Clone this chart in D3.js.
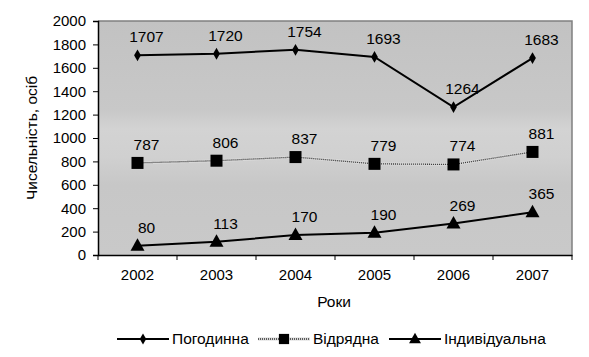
<!DOCTYPE html>
<html><head><meta charset="utf-8">
<script src="https://cdn.jsdelivr.net/npm/d3@7"></script>
<style>body{margin:0;background:#fff}svg{display:block;font-family:"Liberation Sans",Arial,sans-serif}</style>
</head><body><svg id="c" width="589" height="357"></svg>
<script>
const years = ["2002","2003","2004","2005","2006","2007"];
const seriesNames = ["Погодинна","Відрядна","Індивідуальна"];
const hourly = [1707,1720,1754,1693,1264,1683];
const piecework = [787,806,837,779,774,881];
const individual = [80,113,170,190,269,365];
const yTicks = [0,200,400,600,800,1000,1200,1400,1600,1800,2000];

const FONT = "Liberation Sans, Arial, sans-serif";
const svg = d3.select("#c");
const L=98,R=572,T=21,B=255;
const x = d3.scaleBand().domain(years).range([L,R]);
const y = d3.scaleLinear().domain([0,2000]).range([B,T]);
const defs = svg.append("defs");
const g = defs.append("linearGradient").attr("id","bg").attr("x1",0).attr("y1",0).attr("x2",0).attr("y2",1);
[[0,"#c2c2c2"],[0.38,"#c8c8c8"],[0.46,"#d3d3d3"],[0.58,"#d0d0d0"],[0.7,"#c7c7c7"],[1,"#c9c9c9"]].forEach(s=>g.append("stop").attr("offset",s[0]).attr("stop-color",s[1]));
svg.append("rect").attr("x",L).attr("y",T).attr("width",R-L).attr("height",B-T).attr("fill","url(#bg)");
svg.append("path").attr("d",`M${L},${T}H${R}V${B}`).attr("fill","none").attr("stroke","#808080").attr("stroke-width",1.5);

const ya = svg.append("g").attr("transform",`translate(${L},0)`).call(d3.axisLeft(y).tickValues(yTicks).tickSize(5).tickFormat(d3.format("d")));
const xa = svg.append("g").attr("transform",`translate(0,${B})`).call(d3.axisBottom(x).tickSize(0));
[ya,xa].forEach(a=>{a.attr("font-family",FONT).attr("font-size",15);a.select(".domain").attr("stroke","#000").attr("stroke-width",1.5);a.selectAll("text").attr("fill","#000");a.selectAll("line").attr("stroke","#000");});
ya.selectAll("text").attr("dx",-4);
xa.selectAll("text").attr("dy",22);
xa.selectAll(".bt").data(years.concat(["end"])).enter().append("line").attr("class","bt")
  .attr("x1",(d,i)=>L+i*x.bandwidth()).attr("x2",(d,i)=>L+i*x.bandwidth()).attr("y1",0).attr("y2",5).attr("stroke","#000");

svg.append("text").attr("transform",`translate(37,138) rotate(-90)`).attr("text-anchor","middle").attr("font-size",15.5).text("Чисельність, осіб");
svg.append("text").attr("x",334).attr("y",307).attr("text-anchor","middle").attr("font-size",15.5).text("Роки");

const cx = d=>x(d)+x.bandwidth()/2;
const line = d3.line().x((d,i)=>cx(years[i])).y(d=>y(d));
const series = [
  {name:seriesNames[0],vals:hourly,marker:"diamond"},
  {name:seriesNames[1],vals:piecework,marker:"square"},
  {name:seriesNames[2],vals:individual,marker:"triangle"}];

function drawLine(sel,d,path){
  if(d.marker==="square"){
    sel.append("path").attr("d",path).attr("fill","none").attr("stroke","#d8d8d8").attr("stroke-width",3);
    sel.append("path").attr("d",path).attr("fill","none").attr("stroke","#333").attr("stroke-width",1.3).attr("stroke-dasharray","1,1");
  } else {
    sel.append("path").attr("d",path).attr("fill","none").attr("stroke","#000").attr("stroke-width",2);
  }
}
function drawMarker(sel,type,px,py,scale){
  if(type==="diamond") sel.append("path").attr("d",d3.symbol(d3.symbolDiamond,40*scale)()).attr("transform",`translate(${px},${py})`).attr("fill","#000");
  if(type==="square") sel.append("rect").attr("x",px-6*scale).attr("y",py-6*scale).attr("width",12*scale).attr("height",12*scale).attr("fill","#000");
  if(type==="triangle") sel.append("path").attr("d",`M${px},${py-7.5*scale}L${px+7*scale},${py+5*scale}L${px-7*scale},${py+5*scale}Z`).attr("fill","#000");
}
series.forEach(s=>{
  const gs = svg.append("g");
  drawLine(gs,s,line(s.vals));
  s.vals.forEach((v,i)=>drawMarker(gs,s.marker,cx(years[i]),y(v),1));
  gs.selectAll("text").data(s.vals).enter().append("text")
    .attr("x",(v,i)=>cx(years[i])+9).attr("y",v=>y(v)-13)
    .attr("text-anchor","middle").attr("font-size",15.5).text(v=>v);
});

const legY = 339;
const legX = [117,258,389];
series.forEach((s,i)=>{
  const gl = svg.append("g");
  drawLine(gl,s,`M${legX[i]},${legY}H${legX[i]+52}`);
  drawMarker(gl,s.marker,legX[i]+26,legY,s.marker==="diamond"?0.9:0.85);
  gl.append("text").attr("x",legX[i]+55).attr("y",legY+5).attr("font-size",15.5).text(s.name);
});
</script></body></html>
